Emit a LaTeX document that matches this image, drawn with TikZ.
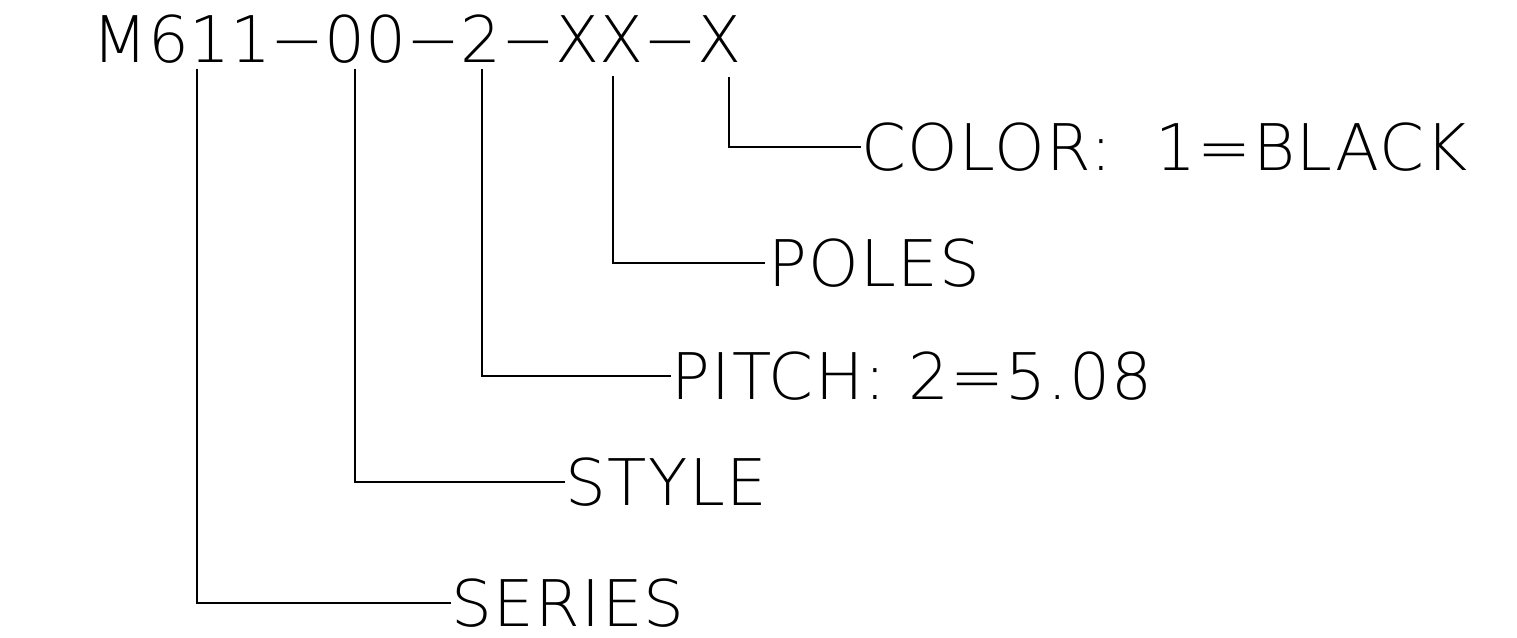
\documentclass[tikz,border=0pt]{standalone}
\usepackage{fontspec}
\setmainfont{DejaVu Sans ExtraLight}
\newfontfamily\fieldfont[LetterSpace=2]{DejaVu Sans ExtraLight}
\usepackage{xcolor}
\usepackage{tikz}
\usetikzlibrary{positioning, calc}
\definecolor{cadink}{HTML}{000000}

\tikzset{
  leadline/.style={draw=cadink, line width=0.6pt},
  codetext/.style={font=\fontsize{18.3}{20}\selectfont, text=cadink, inner sep=0pt, anchor=base west},
  fieldlabel/.style={font=\fieldfont\fontsize{18.3}{20}\selectfont, text=cadink, inner sep=0pt, anchor=west}
}

\begin{document}
\begin{tikzpicture}[x=0.1mm, y=-0.1mm]

  %% Canvas
  \fill[white] (0,0) rectangle (1517,637);
  \useasboundingbox (0,0) rectangle (1517,637);

  %% Part number
  \node[codetext] (partno) at (92,62) {M611−00−2−XX−X};

  %% Tap points under the code
  \coordinate (seriestap) at (197,69);
  \coordinate (styletap)  at (354.6,69);
  \coordinate (pitchtap)  at (482,69);
  \coordinate (polestap)  at (613,76);
  \coordinate (colortap)  at (728.6,77);

  %% Field labels
  \node[fieldlabel] (colorlbl)  at (861,147) {COLOR:\ \ 1=BLACK};
  \node[fieldlabel] (poleslbl)  at (768,263) {POLES};
  \node[fieldlabel] (pitchlbl)  at (671,376) {PITCH: 2=5.08};
  \node[fieldlabel] (stylelbl)  at (565,482) {STYLE};
  \node[fieldlabel] (serieslbl) at (451,603) {SERIES};

  %% Leaders
  \draw[leadline] (colortap)  |- (colorlbl.west);
  \draw[leadline] (polestap)  |- ($(poleslbl.west)+(-3,0)$);
  \draw[leadline] (pitchtap)  |- (pitchlbl.west);
  \draw[leadline] (styletap)  |- (stylelbl.west);
  \draw[leadline] (seriestap) |- (serieslbl.west);

\end{tikzpicture}
\end{document}
